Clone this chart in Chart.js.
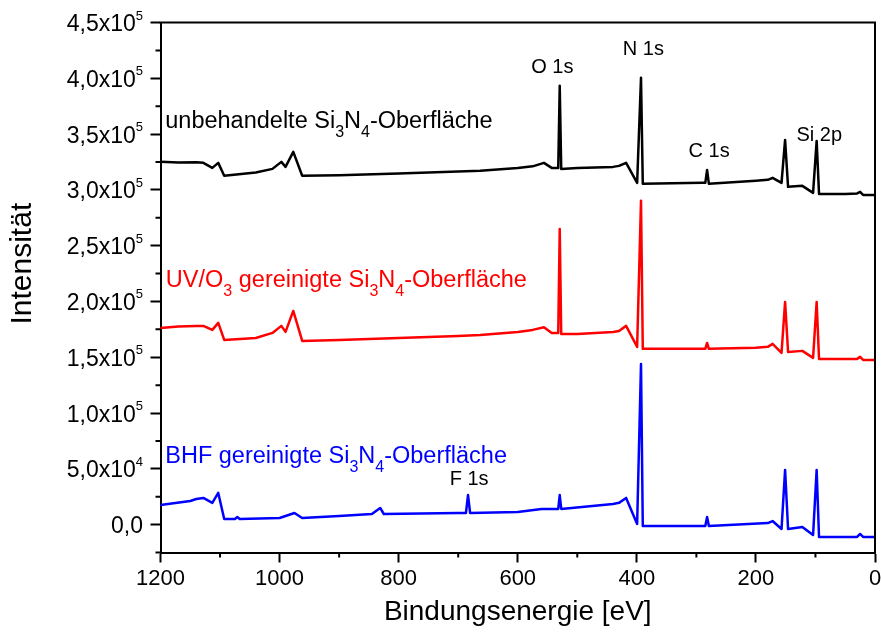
<!DOCTYPE html>
<html><head><meta charset="utf-8">
<script src="https://cdn.jsdelivr.net/npm/chart.js@4.4.1/dist/chart.umd.min.js"></script>
<style>html,body{margin:0;padding:0;background:#fff;}canvas{display:block;}</style>
</head><body>
<canvas id="c" width="881" height="639" style="width:881px;height:639px"></canvas>
<script>
// ---------- data ----------
const blackEnergy = [1200,1170,1140,1128,1113,1103,1093,1040,1012,997,990,977,962,900,800,700,663,600,575,556,543,532,529.5,527,500,440,430,418,399.5,393,390,290,285,282,279,200,180,172,157,151,146,122,104,98,94,50,30,25,20,0];
const blackIntensity = [325100,324500,324800,324200,319700,324200,312600,315500,318800,325100,320600,334100,312600,313200,314600,316400,317100,319500,321100,324200,319700,319700,393300,318800,319500,320600,321500,324200,306300,400400,305400,306300,306300,317900,305400,308100,309000,310800,306300,344800,302700,303600,297300,343900,296400,296400,296800,298200,295500,295500];

const redEnergy = [1200,1170,1140,1128,1113,1103,1093,1040,1012,997,990,977,962,900,800,700,663,600,575,556,543,532,529.5,527,500,440,430,418,399.5,393,390,290,285,282,279,200,180,172,157,151,146,122,104,98,94,50,30,25,20,0];
const redIntensity = [176300,177500,178100,178100,174500,180800,165500,167300,171800,178100,172700,191500,164600,165500,167300,169100,170000,172700,174500,176900,171800,171800,265000,170900,170900,172700,173500,178100,159300,290200,157500,157500,157500,162800,157500,158400,159300,162000,153900,199600,154800,155700,149400,199600,148500,148500,148500,150300,147600,147600];

const blueEnergy = [1200,1150,1140,1128,1113,1103,1093,1075,1071,1067,1000,975,962,900,845,831,825,700,687,683.5,680,600,560,532,529.5,527,440,430,418,399.5,393,390,290,285,282,279,180,172,157,151,146,122,104,98,94,30,25,20,0];
const blueIntensity = [17600,21200,23000,23900,19400,28400,5000,5000,6800,5000,5900,10400,5900,7700,9500,14900,9500,10400,10400,26500,10400,11300,14000,14000,26500,14000,18500,19500,23900,600,144000,-1200,-1200,-1200,6800,-1200,1400,3200,-3900,49000,-3900,-2100,-9300,49000,-11100,-11100,-8400,-11100,-11100];

const xTickValues = [0,200,400,600,800,1000,1200];
const xMinorValues = [100,300,500,700,900,1100];
const yTickValues = [0,50000,100000,150000,200000,250000,300000,350000,400000,450000];
const yTickLabels = ['0,0','5,0x10^{4}','1,0x10^{5}','1,5x10^{5}','2,0x10^{5}','2,5x10^{5}','3,0x10^{5}','3,5x10^{5}','4,0x10^{5}','4,5x10^{5}'];
const yMinorValues = [-25000,25000,75000,125000,175000,225000,275000,325000,375000,425000];

const seriesNames = ['unbehandelte Si_{3}N_{4}-Oberfläche','UV/O_{3} gereinigte Si_{3}N_{4}-Oberfläche','BHF gereinigte Si_{3}N_{4}-Oberfläche'];
const seriesNameEnergy = [1192,1191,1192];
const seriesNameIntensity = [355600,213300,55200];
const peakNames = ['O 1s','N 1s','C 1s','Si 2p','F 1s'];
const peakNameEnergy = [542,389,278.5,93.7,681.7];
const peakNameIntensity = [404900,421100,329900,343900,35500];

const xTitle = 'Bindungsenergie [eV]';
const yTitle = 'Intensität';

// ---------- styling ----------
const FONT = '"Liberation Sans", Arial, Helvetica, sans-serif';
const COLORS = ['#000000','#ff0000','#0000ff'];
Chart.defaults.font.family = FONT;
Chart.defaults.color = '#000';

function series(E, I){ return E.map((e,i)=>({x:e, y:I[i]})); }

function parseRich(s){
  const out=[]; const re=/([_^])\{([^}]*)\}/g; let last=0, m;
  while((m=re.exec(s))){
    if(m.index>last) out.push({t:s.slice(last,m.index),k:'n'});
    out.push({t:m[2],k:m[1]==='_'?'sub':'sup'});
    last=re.lastIndex;
  }
  if(last<s.length) out.push({t:s.slice(last),k:'n'});
  return out;
}
function drawRich(ctx, s, x, y, align, size, color, opt){
  const parts = parseRich(s);
  const fs = k => k==='n' ? size : (k==='sub' ? opt.subSize : opt.supSize);
  let w = 0;
  parts.forEach(p=>{ ctx.font = fs(p.k)+'px '+FONT; p.w = ctx.measureText(p.t).width; w += p.w; });
  let cx = align==='right' ? x-w : (align==='center' ? x-w/2 : x);
  ctx.fillStyle = color; ctx.textAlign='left'; ctx.textBaseline='alphabetic';
  parts.forEach(p=>{
    ctx.font = fs(p.k)+'px '+FONT;
    const dy = p.k==='sub' ? opt.subDy : (p.k==='sup' ? -opt.supDy : 0);
    ctx.fillText(p.t, cx, y+dy);
    cx += p.w;
  });
}

const decorPlugin = {
  id:'decor',
  afterDraw(chart){
    const {ctx, chartArea:{left,right,top,bottom}, scales:{x,y}} = chart;
    ctx.save();
    ctx.strokeStyle='#000'; ctx.lineWidth=2;
    // frame top & right
    ctx.beginPath(); ctx.moveTo(left-1,top); ctx.lineTo(right,top); ctx.lineTo(right,bottom); ctx.stroke();
    // minor ticks
    ctx.beginPath();
    yMinorValues.forEach(v=>{ const p=y.getPixelForValue(v); ctx.moveTo(left-5,p); ctx.lineTo(left,p); });
    xMinorValues.forEach(v=>{ const p=x.getPixelForValue(v); ctx.moveTo(p,bottom); ctx.lineTo(p,bottom+5); });
    ctx.stroke();
    // y tick labels with superscript
    yTickValues.forEach((v,i)=>{
      const p=y.getPixelForValue(v);
      drawRich(ctx, yTickLabels[i], left-17.5, p+8.5, 'right', 23, '#000', {supSize:13, supDy:11.5});
    });
    // y title
    ctx.save();
    ctx.translate(23, top + (bottom-top)*0.455);
    ctx.rotate(-Math.PI/2);
    ctx.font='30px '+FONT; ctx.fillStyle='#000'; ctx.textAlign='center'; ctx.textBaseline='middle';
    ctx.fillText(yTitle,0,0);
    ctx.restore();
    // series labels
    seriesNames.forEach((s,i)=>{
      drawRich(ctx, s, x.getPixelForValue(seriesNameEnergy[i]), y.getPixelForValue(seriesNameIntensity[i]), 'left', 23.5, COLORS[i], {subSize:16, subDy:9});
    });
    // peak labels
    peakNames.forEach((s,i)=>{
      drawRich(ctx, s, x.getPixelForValue(peakNameEnergy[i]), y.getPixelForValue(peakNameIntensity[i]), 'center', 20, '#000', {});
    });
    ctx.restore();
  }
};

const gridOpts = {display:true, drawOnChartArea:false, drawTicks:true, tickLength:10, tickColor:'#000', tickWidth:2};
const borderOpts = {display:true, color:'#000', width:2};

new Chart(document.getElementById('c'), {
  type:'line',
  data:{ datasets:[
    {label:'unbehandelte', data:series(blackEnergy,blackIntensity), borderColor:COLORS[0], backgroundColor:COLORS[0]},
    {label:'UV/O3 gereinigt', data:series(redEnergy,redIntensity), borderColor:COLORS[1], backgroundColor:COLORS[1]},
    {label:'BHF gereinigt', data:series(blueEnergy,blueIntensity), borderColor:COLORS[2], backgroundColor:COLORS[2]}
  ]},
  options:{
    responsive:false, animation:false, devicePixelRatio:1,
    layout:{padding:{top:22.5,right:6,left:0,bottom:0}},
    plugins:{legend:{display:false}, tooltip:{enabled:false}},
    elements:{point:{radius:0}, line:{borderWidth:2.5, tension:0, borderJoinStyle:'round', borderCapStyle:'round'}},
    scales:{
      x:{type:'linear', reverse:true, min:0, max:1200,
         afterBuildTicks:s=>{ s.ticks = xTickValues.map(v=>({value:v})); },
         afterFit:s=>{ s.height = 86.5; },
         ticks:{font:{size:22}, color:'#000', padding:3, maxRotation:0, autoSkip:false, callback:v=>String(v)},
         grid:gridOpts, border:borderOpts,
         title:{display:true, text:xTitle, font:{size:28}, color:'#000', padding:{top:0,bottom:10}}
      },
      y:{type:'linear', min:-25000, max:450000,
         afterBuildTicks:s=>{ s.ticks = yTickValues.map(v=>({value:v})); },
         afterFit:s=>{ s.width = 160.5; },
         ticks:{display:false},
         grid:gridOpts, border:borderOpts,
         title:{display:false}
      }
    }
  },
  plugins:[decorPlugin]
});
</script>
</body></html>
